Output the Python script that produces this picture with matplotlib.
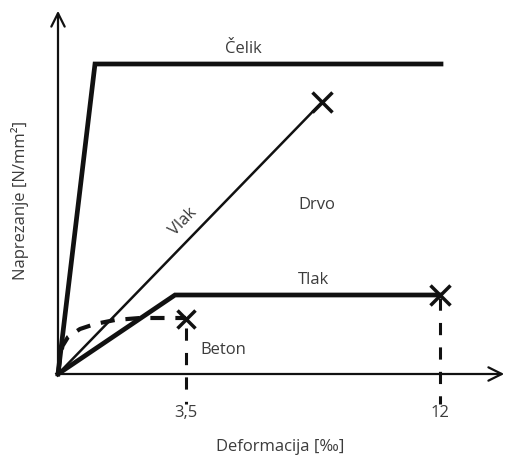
import matplotlib.pyplot as plt

# schematic stress-strain diagram (arbitrary drawing units, origin at 0,0)
celik_x = [0, 3.7, 38.3]
celik_y = [0, 31.0, 31.0]

vlak_x = [0, 26.4]
vlak_y = [0, 27.2]

tlak_x = [0, 11.7, 38.2]
tlak_y = [0, 7.9, 7.9]

beton_x = [0, 0.2, 0.45, 1.0, 2.2, 3.7, 5.7, 8.2, 12.8]
beton_y = [0, 1.5, 2.8, 3.7, 4.5, 5.0, 5.4, 5.6, 5.6]

tick_pos = [12.8, 38.2]
tick_labels = ['3,5', '12']
guide_top = [4.6, 7.6]

plt.rcParams['font.family'] = ['Open Sans', 'DejaVu Sans']
txt = '#3c3c3c'
fs = 12

fig = plt.figure(figsize=(5.08, 4.56), dpi=100)
ax = fig.add_axes([0, 0, 1, 1])
ax.set_xlim(-5.8, 45.0)
ax.set_ylim(-8.1, 37.5)
ax.axis('off')

# axes arrows
ax.annotate('', xy=(0, 36.6), xytext=(0, 0),
            arrowprops=dict(arrowstyle='->', lw=1.6, color='#111111',
                            mutation_scale=24))
ax.annotate('', xy=(44.9, 0), xytext=(0, 0),
            arrowprops=dict(arrowstyle='->', lw=1.6, color='#111111',
                            mutation_scale=24))

# dashed guides
for x, top in zip(tick_pos, guide_top):
    ax.plot([x, x], [top, -3.0], color='#111111', lw=2.2,
            dashes=(4, 4), solid_capstyle='butt')

ax.plot(celik_x, celik_y, color='#111111', lw=3.4, solid_joinstyle='miter')
ax.plot(vlak_x, vlak_y, color='#111111', lw=1.8)
ax.plot(tlak_x, tlak_y, color='#111111', lw=3.4, solid_joinstyle='miter')
ax.plot(beton_x, beton_y, color='#111111', lw=3.0, dashes=(3.4, 2.6))

ax.plot(vlak_x[-1], vlak_y[-1], marker='x', ms=14, mew=2.5, color='#111111')
ax.plot(tlak_x[-1], tlak_y[-1], marker='x', ms=14, mew=2.5, color='#111111')
ax.plot(beton_x[-1], beton_y[-1] - 0.1, marker='x', ms=13, mew=2.5, color='#111111')

for x, lab in zip(tick_pos, tick_labels):
    ax.text(x, -3.8, lab, ha='center', va='center', fontsize=fs, color=txt)

ax.text(18.5, 31.8, 'Čelik', ha='center', va='bottom', fontsize=fs, color=txt)
ax.text(25.9, 17.0, 'Drvo', ha='center', va='center', fontsize=fs, color=txt)
ax.text(25.5, 9.5, 'Tlak', ha='center', va='center', fontsize=fs, color=txt)
ax.text(16.5, 2.5, 'Beton', ha='center', va='center', fontsize=fs, color=txt)
ax.text(12.5, 15.3, 'Vlak', ha='center', va='center', fontsize=fs,
        color=txt, rotation=46)

ax.text(22.2, -7.2, 'Deformacija [‰]', ha='center', va='center',
        fontsize=fs, color=txt)
ax.text(-3.8, 17.5, 'Naprezanje [N/mm²]', ha='center', va='center',
        fontsize=fs, color=txt, rotation=90)

fig.savefig('out.png', dpi=100)
